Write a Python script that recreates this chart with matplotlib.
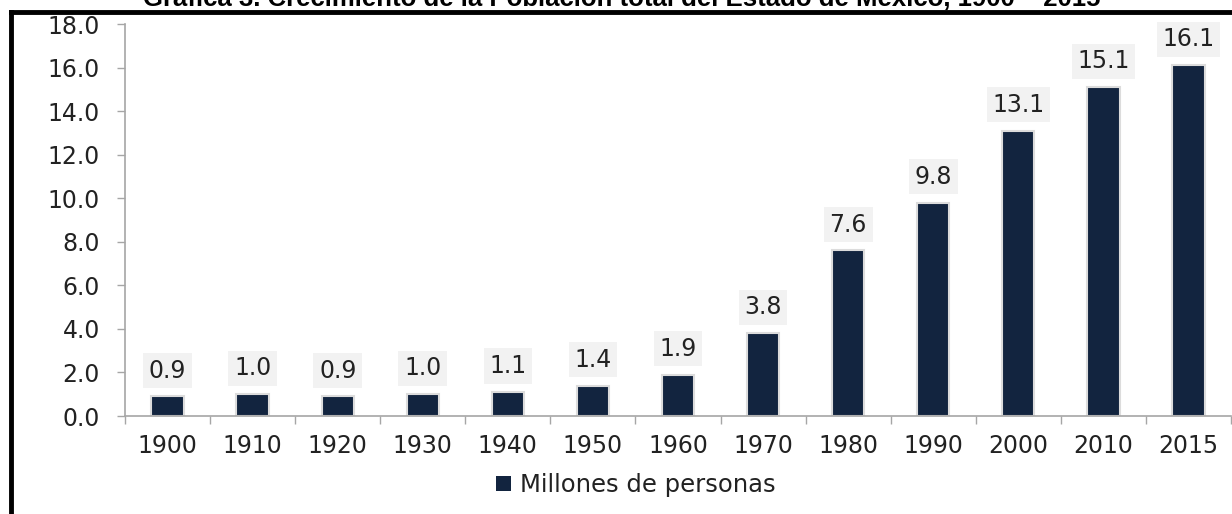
import matplotlib.pyplot as plt
from matplotlib.lines import Line2D
from matplotlib.patches import Patch

years = ['1900', '1910', '1920', '1930', '1940', '1950', '1960',
         '1970', '1980', '1990', '2000', '2010', '2015']
poblacion = [0.9, 1.0, 0.9, 1.0, 1.1, 1.4, 1.9, 3.8, 7.6, 9.8, 13.1, 15.1, 16.1]

bar_color = '#12243f'
axis_color = '#a6a6a6'
text_color = '#222222'

fig = plt.figure(figsize=(12.32, 5.14), dpi=100)
ax = fig.add_axes([125 / 1232, 1 - 416 / 514, 1106 / 1232, (416 - 24) / 514])

x = list(range(len(years)))
bars = ax.bar(x, poblacion, width=0.38, color=bar_color,
              edgecolor='#dcdcdc', linewidth=1.5, label='Millones de personas')

for xi, v in zip(x, poblacion):
    ax.annotate('{:.1f}'.format(v), (xi, v), xytext=(0, 10), textcoords='offset points',
                ha='center', va='bottom', fontsize=17, color=text_color,
                bbox=dict(boxstyle='square,pad=0.24', fc='#f2f2f2', ec='none'))

ax.set_xlim(-0.5, len(years) - 0.5)
ax.set_ylim(0, 18)
ax.set_yticks(range(0, 19, 2))
ax.set_yticklabels(['{:.1f}'.format(t) for t in range(0, 19, 2)])
ax.set_xticks(x)
ax.set_xticklabels(years)
ax.set_xticks([i - 0.5 for i in range(len(years) + 1)], minor=True)

ax.tick_params(axis='y', direction='out', length=6, width=1, color=axis_color,
               labelsize=17, labelcolor=text_color, pad=12)
ax.tick_params(axis='x', which='major', length=0, labelsize=17,
               labelcolor=text_color, pad=13)
ax.tick_params(axis='x', which='minor', direction='out', length=6, width=1,
               color=axis_color)

for side in ['top', 'right']:
    ax.spines[side].set_visible(False)
for side in ['left', 'bottom']:
    ax.spines[side].set_color(axis_color)
    ax.spines[side].set_linewidth(1.2)

handle = Patch(facecolor=bar_color, edgecolor='none')
fig.legend([handle], ['Millones de personas'], loc='center', bbox_to_anchor=(636 / 1232, 1 - 485 / 514),
           frameon=False, fontsize=17.5, handlelength=0.6, handleheight=0.6,
           handletextpad=0.4, labelcolor=text_color)

# outer frame (left and top edges visible)
fig.add_artist(Line2D([11 / 1232, 11 / 1232], [0, 1 - 12 / 514], color='black', lw=3.5,
                      transform=fig.transFigure))
fig.add_artist(Line2D([11 / 1232, 1], [1 - 12 / 514, 1 - 12 / 514], color='black', lw=3.5,
                      transform=fig.transFigure))

# title, cut at the top of the picture
fig.text(0.505, 1 - 6 / 514, 'Gráfica 3. Crecimiento de la Población total del Estado de México, 1900 – 2015',
         ha='center', va='baseline', fontsize=18.5, fontweight='bold', family='Liberation Sans')

fig.savefig('out.png', dpi=100)
